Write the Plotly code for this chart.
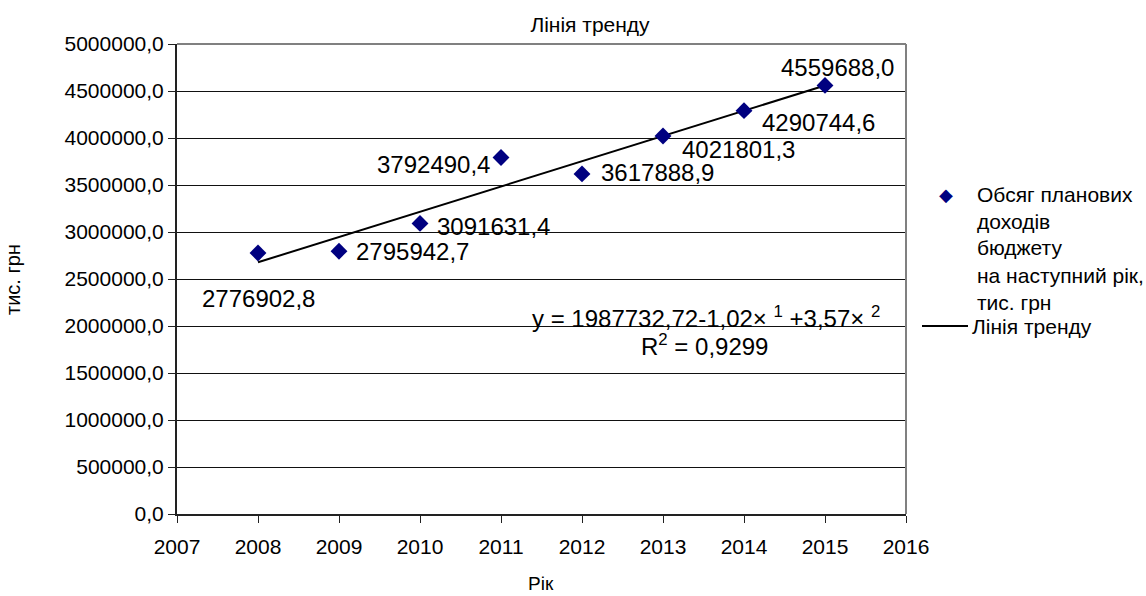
import numpy as np
import plotly.graph_objects as go

# Budget revenue plan by year, thousand UAH
years = [2008, 2009, 2010, 2011, 2012, 2013, 2014, 2015]
revenue = [2776902.8, 2795942.7, 3091631.4, 3792490.4,
           3617888.9, 4021801.3, 4290744.6, 4559688.0]

x_ticks = [2007, 2008, 2009, 2010, 2011, 2012, 2013, 2014, 2015, 2016]
y_ticks = [0, 500000, 1000000, 1500000, 2000000, 2500000,
           3000000, 3500000, 4000000, 4500000, 5000000]
y_tick_labels = ["0,0", "500000,0", "1000000,0", "1500000,0", "2000000,0",
                 "2500000,0", "3000000,0", "3500000,0", "4000000,0",
                 "4500000,0", "5000000,0"]

legend_lines = ["Обсяг планових", "доходів", "бюджету",
                "на наступний рік,", "тис. грн"]
trend_name = "Лінія тренду"
equation = "y = 1987732,72-1,02× <sup>1</sup> +3,57× <sup>2</sup>"
r_squared = "R<sup>2</sup> = 0,9299"

# label offsets (pixels) for each point's value label
label_dx = [0, 73, 73, -68, 75, 75, 74, 12]
label_dy = [-46, 0, -3, -7, 1, -14, -12, 18]

FONT = "Liberation Sans, Arial, sans-serif"

# least-squares linear trend over the data
coef = np.polyfit(years, revenue, 1)
trend_x = [years[0], years[-1]]
trend_y = list(np.polyval(coef, trend_x))

fig = go.Figure()
fig.add_trace(go.Scatter(
    x=trend_x, y=trend_y, mode="lines",
    line=dict(color="black", width=2), showlegend=False, hoverinfo="skip"))
fig.add_trace(go.Scatter(
    x=years, y=revenue, mode="markers",
    marker=dict(symbol="diamond", color="#000080", size=13,
                line=dict(width=0)),
    showlegend=False))

for yr, v, dx, dy in zip(years, revenue, label_dx, label_dy):
    fig.add_annotation(
        x=yr, y=v, xref="x", yref="y", showarrow=False,
        xanchor="center", yanchor="middle",
        text=f"{v:.1f}".replace(".", ","), xshift=dx, yshift=dy,
        font=dict(family=FONT, size=24, color="black"))

plot_l, plot_r, plot_t, plot_b = 177, 906, 44, 514
W, H = 1146, 596


def px(xp):
    return (xp - plot_l) / (plot_r - plot_l)


def py(yp):
    return (plot_b - yp) / (plot_b - plot_t)


def text_at(xp, yp, text, size, xanchor="center", color="black",
            family=FONT, angle=0):
    fig.add_annotation(x=px(xp), y=py(yp), xref="paper", yref="paper",
                       showarrow=False, xanchor=xanchor, yanchor="middle",
                       text=text, textangle=angle,
                       font=dict(family=family, size=size, color=color))


# equation and R² of the trend
text_at(706, 317, equation, 24)
text_at(704, 345, r_squared, 24)

# axis titles
text_at(13, 280, "тис. грн", 20, angle=-90)
text_at(541, 583, "Рік", 19)

# hand-built legend on the right
text_at(946, 195, "◆", 18, color="#000080", family="DejaVu Sans")
for i, line in enumerate(legend_lines):
    text_at(975, 194 + 27 * i, line, 21, xanchor="left")
text_at(970, 326, trend_name, 21, xanchor="left")
fig.add_shape(type="line", xref="paper", yref="paper",
              x0=px(922), x1=px(968), y0=py(326), y1=py(326),
              line=dict(color="black", width=2))

# gray frame on top and right
fig.add_shape(type="line", xref="paper", yref="paper",
              x0=0, x1=1, y0=1, y1=1, line=dict(color="#808080", width=2))
fig.add_shape(type="line", xref="paper", yref="paper",
              x0=1, x1=1, y0=0, y1=1, line=dict(color="#808080", width=2))

fig.update_layout(
    width=W, height=H,
    paper_bgcolor="white", plot_bgcolor="white",
    margin=dict(l=plot_l, r=W - plot_r, t=plot_t, b=H - plot_b),
    title=dict(text="Лінія тренду", x=(590 / W), xanchor="center",
               y=1 - 25 / H, yanchor="middle",
               font=dict(family=FONT, size=21, color="black")),
    xaxis=dict(
        range=[2007, 2016], tickvals=x_ticks,
        ticktext=[str(t) for t in x_ticks],
        showgrid=False, zeroline=False,
        showline=True, linecolor="#222", linewidth=2,
        ticks="outside", ticklen=7, tickcolor="#222",
        ticklabelstandoff=6,
        tickfont=dict(family=FONT, size=21, color="black")),
    yaxis=dict(
        range=[0, 5000000], tickvals=y_ticks, ticktext=y_tick_labels,
        showgrid=True, gridcolor="#111", gridwidth=1, zeroline=False,
        showline=True, linecolor="#222", linewidth=2,
        ticks="outside", ticklen=7, tickcolor="#222",
        tickfont=dict(family=FONT, size=21, color="black")),
    font=dict(family=FONT),
)

fig.write_html("out.html")
